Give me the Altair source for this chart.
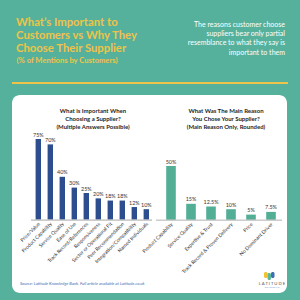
import altair as alt
import pandas as pd

# ---- data ----
left_categories = ["Price/Value", "Product Capability", "Service Quality", "Ease of Use",
                   "Track Record/References", "Responsiveness", "Sector or Operational Fit",
                   "Peer Recommendation", "Integration/Compatibility", "Named Individuals"]
left_values = [75, 70, 40, 30, 25, 20, 18, 18, 12, 10]
left_labels = ["75%", "70%", "40%", "30%", "25%", "20%", "18%", "18%", "12%", "10%"]

right_categories = ["Product Capability", "Service Quality", "Expertise & Trust",
                    "Track Record & Proven Delivery", "Price", "No Dominant Driver"]
right_values = [50, 15, 12.5, 10, 5, 7.5]
right_labels = ["50%", "15%", "12.5%", "10%", "5%", "7.5%"]

title_lines = ["What’s Important to", "Customers vs Why They", "Choose Their Supplier"]
title_sub = "(% of Mentions by Customers)"
side_lines = ["The reasons customer choose", "suppliers bear only partial",
              "resemblance to what they say is", "important to them"]
left_title = ["What is Important When", "Choosing a Supplier?", "(Multiple Answers Possible)"]
right_title = ["What Was The Main Reason", "You Chose Your Supplier?", "(Main Reason Only, Rounded)"]
source_text = "Source: Latitude Knowledge Bank. Full article available at Latitude.co.uk"

TEAL = "#55B19C"
YELLOW = "#EFC34A"
BLUE = "#2C4D8E"
BAR_TEAL = "#52AE95"
FONT = "Lato"

left_df = pd.DataFrame({"cat1": left_categories, "v1": left_values, "l1": left_labels})
right_df = pd.DataFrame({"cat2": right_categories, "v2": right_values, "l2": right_labels})

one = pd.DataFrame({"a": [0]})
base = alt.Chart(one)

# ---- decorations ----
line = base.mark_rule(color=YELLOW, strokeWidth=1.8).encode(
    x=alt.value(12), x2=alt.value(288), y=alt.value(83))
panel = base.mark_rect(color="white", cornerRadius=8).encode(
    x=alt.value(12), x2=alt.value(287), y=alt.value(95), y2=alt.value(293))
title = base.mark_text(text=title_lines, align="left", baseline="alphabetic", font=FONT,
                       fontWeight="bold", fontSize=11.3, lineHeight=13, color=YELLOW).encode(
    x=alt.value(16), y=alt.value(26))
subtitle = base.mark_text(text=title_sub, align="left", baseline="alphabetic", font=FONT,
                          fontWeight="bold", fontSize=7.6, color=YELLOW).encode(
    x=alt.value(16.5), y=alt.value(63))
side = base.mark_text(text=side_lines, align="right", baseline="alphabetic", font=FONT,
                      fontSize=7.0, lineHeight=9.4, color="white").encode(
    x=alt.value(285), y=alt.value(26.5))
ltitle = base.mark_text(text=left_title, align="center", baseline="alphabetic", font=FONT,
                        fontWeight="bold", fontSize=6.0, lineHeight=7.8, color="#1f1f1f").encode(
    x=alt.value(93), y=alt.value(113))
rtitle = base.mark_text(text=right_title, align="center", baseline="alphabetic", font=FONT,
                        fontWeight="bold", fontSize=6.0, lineHeight=7.8, color="#1f1f1f").encode(
    x=alt.value(226), y=alt.value(113))
source = base.mark_text(text=source_text, align="left", baseline="alphabetic", font=FONT,
                        fontStyle="italic", fontSize=4.2, color="#3B6DB5").encode(
    x=alt.value(20), y=alt.value(284.5))
logo_word = base.mark_text(text="L A T I T U D E", align="center", baseline="alphabetic", font=FONT,
                           fontSize=4.2, color="#555555").encode(
    x=alt.value(272), y=alt.value(284.5))
logo_sub = base.mark_text(text="CONSULTING", align="center", baseline="alphabetic", font=FONT,
                          fontSize=2.4, color="#7aa0d0").encode(
    x=alt.value(272), y=alt.value(288.5))
heart_y = base.mark_rect(color="#F2C230", cornerRadius=1.5).encode(
    x=alt.value(264), x2=alt.value(267.5), y=alt.value(272), y2=alt.value(278))
heart_g = base.mark_rect(color="#5DB89A", cornerRadius=1.5).encode(
    x=alt.value(267.5), x2=alt.value(271), y=alt.value(273), y2=alt.value(280))
heart_b = base.mark_rect(color="#3F6FB6", cornerRadius=1.5).encode(
    x=alt.value(271), x2=alt.value(274.5), y=alt.value(272), y2=alt.value(278))

# ---- left chart ----
lx = alt.X("cat1:N", sort=left_categories,
           scale=alt.Scale(range=[32.3, 152.3], paddingInner=0.55, paddingOuter=0.275), axis=None)
ly = alt.Y("v1:Q", scale=alt.Scale(domain=[0, 100], range=[220, 112]), axis=None)
lb = alt.Chart(left_df)
left_bars = lb.mark_bar(color=BLUE).encode(x=lx, y=ly)
left_vals = lb.mark_text(baseline="bottom", dy=-1.5, font=FONT, fontSize=5.4, color="#333333").encode(
    x=lx, y=ly, text="l1:N")
left_cats = lb.mark_text(angle=315, align="right", baseline="middle", dx=1, font=FONT,
                         fontSize=5.0, color="#333333").encode(
    x=lx, y=alt.value(223.5), text="cat1:N")
left_base = lb.mark_rule(color="#cccccc", strokeWidth=0.6).encode(
    x=alt.value(31), x2=alt.value(152), y=alt.value(220.3))
left_layer = alt.layer(left_bars, left_vals, left_cats, left_base)

# ---- right chart ----
rx = alt.X("cat2:N", sort=right_categories,
           scale=alt.Scale(range=[161, 281], paddingInner=0.52, paddingOuter=0.26), axis=None)
ry = alt.Y("v2:Q", scale=alt.Scale(domain=[0, 100], range=[220, 112]), axis=None)
rb = alt.Chart(right_df)
right_bars = rb.mark_bar(color=BAR_TEAL).encode(x=rx, y=ry)
right_vals = rb.mark_text(baseline="bottom", dy=-1.5, font=FONT, fontSize=5.4, color="#333333").encode(
    x=rx, y=ry, text="l2:N")
right_cats = rb.mark_text(angle=315, align="right", baseline="middle", dx=1, font=FONT,
                          fontSize=5.0, color="#333333").encode(
    x=rx, y=alt.value(224), text="cat2:N")
right_base = rb.mark_rule(color="#cccccc", strokeWidth=0.6).encode(
    x=alt.value(156), x2=alt.value(282), y=alt.value(220.3))
right_layer = alt.layer(right_bars, right_vals, right_cats, right_base)

chart = alt.layer(
    line, panel, title, subtitle, side, ltitle, rtitle, source,
    logo_word, logo_sub, heart_y, heart_g, heart_b,
    left_layer, right_layer
).resolve_scale(x="independent", y="independent").properties(
    width=300, height=300, padding=0, background=TEAL,
    autosize=alt.AutoSizeParams(type="none")
).configure_view(stroke=None)

chart.save("out.html", embed_options={"renderer": "svg", "actions": False})
